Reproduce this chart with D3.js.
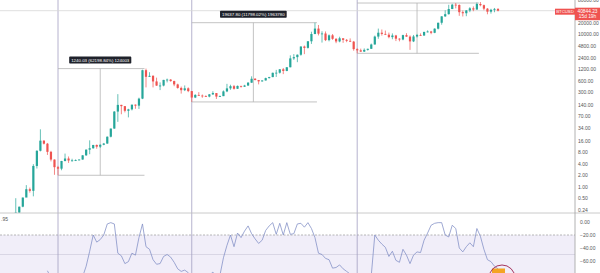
<html>
<head>
<meta charset="utf-8">
<style>
body { margin: 0; background: #fff; }
text { font-family: "Liberation Sans", Arial, sans-serif; }
</style>
</head>
<body>
<script src="https://cdn.jsdelivr.net/npm/d3@7/dist/d3.min.js"></script>
<script>

var width = 600,
    height = 273,
    axisX = 575,
    paneSep = 213;

// monthly candles, Jul 2010 .. Apr 2022  [open, high, low, close]
var ohlc = [
  // 2010 Jul-Dec
  [0.05,0.10,0.05,0.07],[0.07,0.07,0.06,0.06],[0.06,0.07,0.06,0.06],[0.06,0.20,0.06,0.19],[0.19,0.50,0.19,0.21],[0.21,0.30,0.20,0.30],
  // 2011
  [0.30,0.52,0.29,0.52],[0.52,1.10,0.55,0.86],[0.86,0.95,0.70,0.78],[0.78,3.90,0.56,3.50],[3.50,9.00,3.00,8.74],[8.74,31.90,8.40,16.10],
  [16.10,16.50,12.80,13.40],[13.40,14.00,6.80,8.20],[8.20,8.70,4.60,5.14],[5.14,5.20,2.05,3.25],[3.25,3.50,1.99,2.97],[2.97,4.75,2.70,4.72],
  // 2012
  [4.72,7.38,4.60,5.48],[5.48,6.20,4.20,4.86],[4.86,5.40,4.55,4.90],[4.90,5.20,4.70,4.95],[4.95,5.20,4.90,5.15],[5.15,6.70,5.10,6.65],
  [6.65,9.50,6.40,9.35],[9.35,16.40,7.10,10.18],[10.18,12.50,9.90,12.40],[12.40,12.80,9.90,11.20],[11.20,12.80,10.40,12.56],[12.56,14.00,12.20,13.51],
  // 2013
  [13.51,20.70,13.30,20.41],[20.41,33.40,19.60,33.38],[33.38,95.70,33.00,93.03],[93.03,266.0,50.00,139.2],[139.2,140.0,79.10,129.0],[129.0,130.0,88.50,97.51],
  [97.51,110.0,65.50,106.2],[106.2,141.0,99.60,141.0],[141.0,143.0,110.0,133.0],[133.0,215.0,109.0,203.0],[203.0,1163,197.0,1129],[1129,1242,400.0,757.0],
  // 2014
  [757,1000,750,803],[803,833,400,573],[573,720,440,445],[445,540,340,447],[447,630,425,628],[628,680,540,640],
  [640,660,565,585],[585,600,430,478],[478,500,370,387],[387,420,275,338],[338,450,320,378],[378,400,300,320],
  // 2015
  [320,320,166.45,217],[217,265,210,254],[254,300,240,244],[244,260,214,236],[236,248,225,230],[230,268,220,263],
  [263,317,253,284],[284,285,199,230],[230,245,225,236],[236,333,236,314],[314,495,300,377],[377,469,345,430],
  // 2016
  [430,463,350,368],[368,448,365,437],[437,440,394,416],[416,467,412,448],[448,550,436,531],[531,780,525,673],
  [673,703,610,624],[624,626,480,575],[575,612,565,608],[608,720,603,700],[700,757,683,744],[744,975,740,964],
  // 2017
  [964,1150,752,970],[970,1210,920,1190],[1190,1290,890,1080],[1080,1350,1060,1348],[1348,2760,1340,2300],[2300,2980,2100,2480],
  [2480,2910,1830,2870],[2870,4770,2700,4700],[4700,4980,2970,4340],[4340,6470,4160,6460],[6460,11500,5500,10000],[10000,19804.25,9900,13880],
  // 2018
  [13880,17250,9200,10220],[10220,11780,5970,10320],[10320,11680,6530,6920],[6920,9760,6430,9240],[9240,10020,7040,7490],[7490,7770,5750,6390],
  [6390,8500,6070,7730],[7730,7760,5880,7030],[7030,7410,6110,6630],[6630,7680,6180,6320],[6320,6590,3650,4020],[4020,4230,3122,3740],
  // 2019
  [3740,4140,3400,3460],[3460,4200,3390,3850],[3850,4130,3670,4100],[4100,5620,4070,5320],[5320,9090,5300,8570],[8570,13880,7510,10820],
  [10820,13130,9080,10080],[10080,12330,9400,9600],[9600,10920,7720,8290],[8290,10370,7300,9150],[9150,9500,6530,7550],[7550,7750,6430,7190],
  // 2020
  [7190,9580,6870,9350],[9350,10520,8450,8540],[8540,9190,3850,6410],[6410,9460,6150,8630],[8630,10080,8100,9450],[9450,10380,8900,9140],
  [9140,11450,8980,11350],[11350,12480,10990,11650],[11650,12070,9880,10780],[10780,14100,10520,13800],[13800,19860,13200,19710],[19710,29300,17560,28990],
  // 2021
  [28990,41950,28130,33110],[33110,58350,32300,45140],[45140,61780,44950,58740],[58740,64854,47000,57690],[57690,59600,30000,37300],[37300,41330,28800,35040],
  [35040,42320,29280,41460],[41460,50500,37330,47100],[47100,52920,39600,43830],[43830,66930,43300,61300],[61300,69000,53250,56950],[56950,59050,42000,46200],
  // 2022 Jan-Apr
  [46200,47990,32930,38480],[38480,45800,34320,43160],[43160,48190,37200,45510],[45510,47440,39200,40844.23]
];

// Williams %R (14)
var willR = [
  null,null,null,null,null,null,
  null,null,null,null,null,null,null,-75,-86,-93,-92,-84,
  -83,-86,-86,-85,-84,-84,-68,-45,-20,-31,-27,-20,
  -3,-1,-3,-48,-52,-64,-61,-48,-51,-24,-3,-38,
  -42,-58,-65,-64,-53,-50,-54,-62,-72,-76,-74,-78,
  -95,-90,-88,-87,-86,-82,-77,-86,-82,-55,-36,-20,
  -38,-17,-24,-14,-6,-18,-26,-33,-28,-13,-6,-1,
  -19,-2,-20,-1,-19,-18,-3,-2,-8,-1,-10,-24,
  -48,-50,-56,-58,-71,-70,-66,-72,-76,-80,-92,-97,
  -97,-92,-88,-82,-20,-28,-34,-39,-53,-45,-59,-62,
  -42,-51,-64,-51,-46,-47,-28,-17,-5,-2,-1,-1,
  -20,-23,-5,-10,-40,-46,-38,-32,-38,-10,-22,-42,
  -58,-61,-68,-72
];

var priceTicks = [80000, 20000, 10000, 4800, 2400, 1200, 600, 300, 140, 70, 34, 16, 8, 4, 2, 1, 0.5, 0.24];
var wrTicks = [0, -20, -40, -60];

// cycle lows (month index) and the date/price range measurements
var cycleLows = [16, 54, 101];
var rangeFrom = [16, 54, 101],
    rangeTo = [40, 89, 135],
    rangeLow = [1.9937, 166.45, 3122],
    rangeHigh = [1242.02, 19804.25, 64854],
    rangeText = ["1240.03 (62198.84%) 124003", "19637.80 (11798.02%) 1963780", null];

var lastPrice = 40844.23, countdown = "15d 19h", symbol = "BTCUSD";

var x = d3.scaleLinear().domain([16, 141]).range([58, 498]);
var y = d3.scaleLog().base(2).domain([0.25, 80000]).range([209.7, -0.45]);
var yR = d3.scaleLinear().domain([0, -60]).range([222, 261]);

var up = "#26a69a", down = "#ef5350";

var svg = d3.select("body").append("svg")
    .attr("width", width)
    .attr("height", height);

var defs = svg.append("defs");
defs.append("clipPath").attr("id", "mainClip")
  .append("rect").attr("x", 0).attr("y", 0).attr("width", axisX).attr("height", paneSep);
defs.append("clipPath").attr("id", "lowClip")
  .append("rect").attr("x", 0).attr("y", paneSep).attr("width", axisX).attr("height", height - paneSep);

// ---- lower pane background
var low = svg.append("g").attr("clip-path", "url(#lowClip)");
low.append("rect")
    .attr("x", 0).attr("width", axisX)
    .attr("y", yR(-20)).attr("height", yR(-80) - yR(-20))
    .style("fill", "#f1eef9");
low.append("line")
    .attr("x1", 0).attr("x2", axisX).attr("y1", yR(-20)).attr("y2", yR(-20))
    .style("stroke", "#9a9a9a").style("stroke-width", 0.7).style("stroke-dasharray", "2,1.5");
low.append("line")
    .attr("x1", 0).attr("x2", axisX).attr("y1", yR(-50)).attr("y2", yR(-50))
    .style("stroke", "#cfcbdd").style("stroke-width", 0.7);

// cycle low verticals through both panes
svg.selectAll(".cycle")
    .data(cycleLows)
  .enter().append("line")
    .attr("class", "cycle")
    .attr("x1", d => x(d)).attr("x2", d => x(d))
    .attr("y1", 0).attr("y2", height)
    .style("stroke", "#a39fc2").style("stroke-width", 0.8);

// current price line
svg.append("line")
    .attr("x1", 0).attr("x2", axisX).attr("y1", y(lastPrice)).attr("y2", y(lastPrice))
    .style("stroke", "#d6d6d6").style("stroke-width", 0.8);

// ---- main pane
var main = svg.append("g").attr("clip-path", "url(#mainClip)");

// range measurements
var rg = main.selectAll(".range")
    .data(rangeFrom.map((d, i) => i))
  .enter().append("g").attr("class", "range");

rg.append("line")
    .attr("x1", i => x(rangeFrom[i])).attr("x2", i => x(rangeTo[i]) + 2)
    .attr("y1", i => y(rangeHigh[i])).attr("y2", i => y(rangeHigh[i]));
rg.append("line")
    .attr("x1", i => x(rangeFrom[i])).attr("x2", i => x(rangeTo[i]) + 2)
    .attr("y1", i => y(rangeLow[i])).attr("y2", i => y(rangeLow[i]));
rg.append("line")
    .attr("x1", i => (x(rangeFrom[i]) + x(rangeTo[i])) / 2)
    .attr("x2", i => (x(rangeFrom[i]) + x(rangeTo[i])) / 2)
    .attr("y1", i => y(rangeHigh[i])).attr("y2", i => y(rangeLow[i]));
rg.selectAll("line").style("stroke", "#b4b4b4").style("stroke-width", 0.8);

// candles
var candle = main.selectAll(".candle")
    .data(ohlc)
  .enter().append("g").attr("class", "candle");

candle.append("line")
    .attr("x1", (d, i) => x(i)).attr("x2", (d, i) => x(i))
    .attr("y1", d => y(d[1])).attr("y2", d => y(d[2]))
    .style("stroke", d => d[3] >= d[0] ? up : down)
    .style("stroke-width", 0.7);

candle.append("rect")
    .attr("x", (d, i) => x(i) - 1.1)
    .attr("width", 2.2)
    .attr("y", d => y(Math.max(d[0], d[3])))
    .attr("height", d => Math.max(0.8, Math.abs(y(d[0]) - y(d[3]))))
    .style("fill", d => d[3] >= d[0] ? up : down);

// range labels (the third one sits above the visible area)
rg.filter(i => rangeText[i]).each(function(i) {
  var g = d3.select(this),
      cx = (x(rangeFrom[i]) + x(rangeTo[i])) / 2,
      top = y(rangeHigh[i]);
  var box = g.append("rect").style("fill", "#1f222b");
  var t = g.append("text")
      .attr("x", cx).attr("y", top - 6.4)
      .attr("text-anchor", "middle")
      .style("font-size", "4.4px").style("fill", "#fff")
      .text(rangeText[i]);
  var w = t.node().getComputedTextLength() + 4;
  box.attr("x", cx - w / 2).attr("width", w).attr("y", top - 12).attr("height", 7).attr("rx", 0.8);
});

// ---- Williams %R line
var line = d3.line()
    .defined(d => d != null)
    .x((d, i) => x(i))
    .y(d => yR(d));

low.append("path")
    .datum(willR)
    .attr("d", line)
    .style("fill", "none")
    .style("stroke", "#7f8cc4")
    .style("stroke-width", 0.75);

// marker at the bottom
low.append("rect")
    .attr("x", x(141) - 6).attr("y", 268.5).attr("width", 13).attr("height", 6)
    .style("fill", "#f4a423");
low.append("circle")
    .attr("cx", x(141) + 4).attr("cy", 278).attr("r", 13)
    .style("fill", "none").style("stroke", "#9c1f4c").style("stroke-width", 0.9);

// pane text
svg.append("text")
    .attr("x", 1).attr("y", 221)
    .style("font-size", "5px").style("fill", "#555")
    .text(".95");

// ---- separator and axis line
svg.append("line")
    .attr("x1", 0).attr("x2", width).attr("y1", paneSep).attr("y2", paneSep)
    .style("stroke", "#bdbdbd").style("stroke-width", 0.8);
svg.append("line")
    .attr("x1", axisX).attr("x2", axisX).attr("y1", 0).attr("y2", height)
    .style("stroke", "#9e9e9e").style("stroke-width", 0.8);

// axes
var yAxis = svg.append("g")
    .attr("transform", "translate(" + axisX + ",0)")
    .call(d3.axisRight(y).tickValues(priceTicks).tickSize(0).tickPadding(3).tickFormat(d3.format(".2f")));
var rAxis = svg.append("g")
    .attr("transform", "translate(" + axisX + ",0)")
    .call(d3.axisRight(yR).tickValues(wrTicks).tickSize(0).tickPadding(5).tickFormat(d3.format(".2f")));
svg.selectAll(".domain").remove();
svg.selectAll(".tick text")
    .style("font-size", "5px").style("fill", "#555")
    .style("font-family", "'Liberation Sans', Arial, sans-serif");

// last price tags
var py = y(lastPrice);
svg.append("rect")
    .attr("x", 555).attr("y", py - 2).attr("width", 20).attr("height", 6)
    .style("fill", "#ef5350");
svg.append("text")
    .attr("x", 565).attr("y", py + 2.6).attr("text-anchor", "middle")
    .style("font-size", "4.3px").style("fill", "#fff")
    .text(symbol);
svg.append("rect")
    .attr("x", axisX).attr("y", py - 3).attr("width", width - axisX).attr("height", 12.5)
    .style("fill", "#ef5350");
svg.append("text")
    .attr("x", 587.5).attr("y", py + 2).attr("text-anchor", "middle")
    .style("font-size", "4.8px").style("fill", "#fff")
    .text(d3.format(".2f")(lastPrice));
svg.append("text")
    .attr("x", 587.5).attr("y", py + 7.6).attr("text-anchor", "middle")
    .style("font-size", "4.8px").style("fill", "#fff")
    .text(countdown);

</script>
</body>
</html>
